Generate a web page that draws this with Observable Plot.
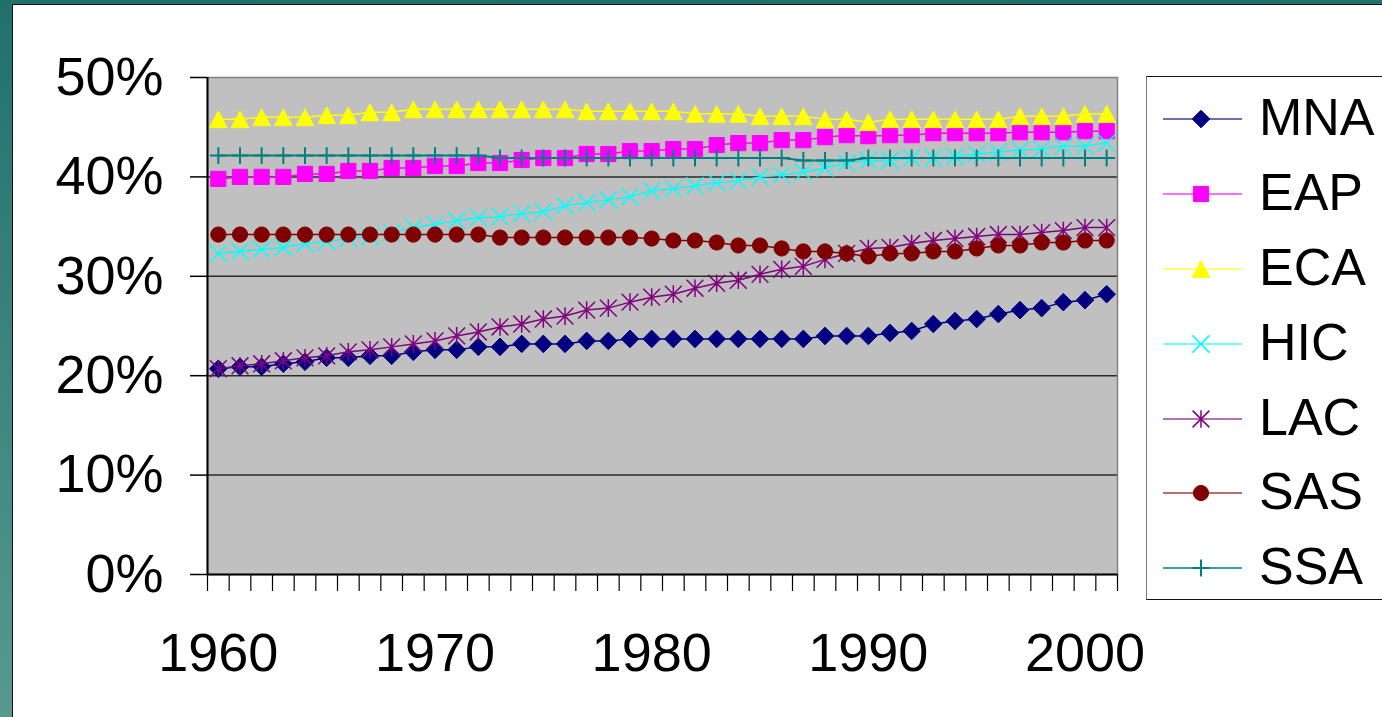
<!DOCTYPE html>
<html>
<head>
<meta charset="utf-8">
<script src="https://cdn.jsdelivr.net/npm/d3@7"></script>
<script src="https://cdn.jsdelivr.net/npm/@observablehq/plot@0.6"></script>
<style>
  html, body { margin: 0; padding: 0; width: 1382px; height: 717px; overflow: hidden; }
  body { position: relative; background: linear-gradient(#22706b, #57998f); font-family: "Liberation Sans", Arial, sans-serif; }
  #panel { position: absolute; left: 12px; top: 4px; right: 0; bottom: 0; background: #fff; border-left: 1.5px solid #111; border-top: 1.5px solid #111; }
  #chart { position: absolute; left: 0; top: 0; }
  #legend { position: absolute; left: 1146px; top: 76px; width: 250px; height: 524px; background: #fff;
            border: 1.5px solid #111; border-left-color: #777; box-sizing: border-box; padding-top: 5px; }
  .row { height: 74.8px; display: flex; align-items: center; }
  .row svg { margin-left: 16px; }
  .row span { margin-left: 16px; font-size: 52px; color: #000; position: relative; top: -2px; line-height: 1; }
</style>
</head>
<body>
<div id="panel"></div>
<div id="chart"></div>
<div id="legend"></div>
<script>
// ---- data ----
const years = [1960,1961,1962,1963,1964,1965,1966,1967,1968,1969,1970,1971,1972,1973,1974,1975,1976,1977,1978,1979,1980,
               1981,1982,1983,1984,1985,1986,1987,1988,1989,1990,1991,1992,1993,1994,1995,1996,1997,1998,1999,2000,2001];
const seriesNames = ["MNA", "EAP", "ECA", "HIC", "LAC", "SAS", "SSA"];
const MNA = [20.7,20.9,20.9,21.2,21.4,21.8,21.8,22.0,22.0,22.4,22.6,22.6,22.9,22.9,23.2,23.2,23.2,23.5,23.5,23.7,23.7,
             23.7,23.7,23.7,23.7,23.7,23.7,23.7,24.0,24.0,24.0,24.3,24.5,25.2,25.5,25.7,26.2,26.6,26.8,27.4,27.6,28.2];
const EAP = [39.8,40.0,40.0,40.0,40.3,40.3,40.6,40.6,40.9,40.9,41.1,41.1,41.4,41.4,41.7,41.9,41.9,42.3,42.3,42.6,42.6,
             42.8,42.8,43.2,43.4,43.4,43.7,43.7,44.0,44.2,44.1,44.2,44.2,44.4,44.4,44.4,44.4,44.5,44.5,44.5,44.6,44.6];
const ECA = [45.8,45.8,46.0,46.0,46.0,46.2,46.2,46.5,46.5,46.8,46.8,46.8,46.8,46.8,46.8,46.8,46.8,46.6,46.6,46.6,46.6,
             46.6,46.35,46.35,46.35,46.1,46.1,46.1,45.8,45.8,45.5,45.8,45.8,45.8,45.8,45.8,45.8,46.1,46.1,46.1,46.35,46.35];
const HIC = [32.3,32.5,32.7,32.9,33.3,33.5,33.8,34.0,34.4,34.9,35.2,35.6,35.9,36.0,36.3,36.5,37.1,37.4,37.7,38.0,38.6,
             38.8,39.1,39.4,39.6,40.0,40.2,40.5,40.9,41.4,41.65,41.65,41.9,41.9,42.05,42.3,42.5,42.7,42.8,43.1,43.1,43.4];
const LAC = [20.7,21.0,21.2,21.5,21.8,22.0,22.4,22.6,22.9,23.2,23.5,24.0,24.4,24.9,25.2,25.7,26.0,26.6,26.8,27.4,27.9,
             28.2,28.8,29.3,29.6,30.2,30.7,31.0,31.7,32.3,32.8,32.9,33.3,33.6,33.8,34.0,34.2,34.2,34.4,34.6,34.9,34.9];
const SAS = [34.2,34.2,34.2,34.2,34.2,34.2,34.2,34.2,34.2,34.2,34.2,34.2,34.2,33.9,33.9,33.9,33.9,33.9,33.9,33.9,33.8,
             33.6,33.6,33.4,33.1,33.1,32.8,32.5,32.5,32.3,32.0,32.3,32.3,32.5,32.5,32.8,33.1,33.1,33.4,33.4,33.6,33.6];
const SSA = [42.15,42.15,42.15,42.15,42.15,42.15,42.15,42.15,42.15,42.15,42.15,42.15,42.15,41.9,41.9,41.9,41.9,41.9,41.9,41.9,41.9,
             41.9,41.9,41.9,41.9,41.9,41.9,41.65,41.65,41.65,41.9,41.9,41.9,41.9,41.9,41.9,41.9,41.9,41.9,41.9,41.9,41.9];
const yTicks = [0, 0.1, 0.2, 0.3, 0.4, 0.5];
const xLabels = [1960, 1970, 1980, 1990, 2000];

// ---- marker shapes (Excel-like) ----
const R = s => Math.sqrt(s / Math.PI);
const symDiamond = {draw(c, s) { const r = R(s); c.moveTo(0, -r); c.lineTo(r, 0); c.lineTo(0, r); c.lineTo(-r, 0); c.closePath(); }};
const symSquare  = {draw(c, s) { const r = R(s); c.rect(-r, -r, 2 * r, 2 * r); }};
const symTri     = {draw(c, s) { const r = R(s); c.moveTo(0, -r * 0.95); c.lineTo(r, r * 0.95); c.lineTo(-r, r * 0.95); c.closePath(); }};
const symTimes   = {draw(c, s) { const r = R(s); c.moveTo(-r, -r); c.lineTo(r, r); c.moveTo(r, -r); c.lineTo(-r, r); }};
const symStar    = {draw(c, s) { const r = R(s); c.moveTo(-r, -r); c.lineTo(r, r); c.moveTo(r, -r); c.lineTo(-r, r); c.moveTo(0, -r * 1.05); c.lineTo(0, r * 1.05); }};
const symCircle  = {draw(c, s) { const r = R(s); c.moveTo(r, 0); c.arc(0, 0, r, 0, 2 * Math.PI); }};
const symPlus    = {draw(c, s) { const r = R(s); c.moveTo(0, -r); c.lineTo(0, r); c.moveTo(-r, 0); c.lineTo(r, 0); }};

const styles = {
  MNA: {color: "#000080", symbol: symDiamond, r: 8.8, filled: true,  lw: 1.5},
  EAP: {color: "#ff00ff", symbol: symSquare,  r: 7.6, filled: true,  lw: 1.5},
  ECA: {color: "#ffff00", symbol: symTri,     r: 8.8, filled: true,  lw: 1.5},
  HIC: {color: "#00ffff", symbol: symTimes,   r: 8.6, filled: false, lw: 1.5, mw: 1.5},
  LAC: {color: "#800080", symbol: symStar,    r: 8.4, filled: false, lw: 1.5, mw: 1.5},
  SAS: {color: "#800000", symbol: symCircle,  r: 7.6, filled: true,  lw: 1.5},
  SSA: {color: "#008080", symbol: symPlus,    r: 8.4, filled: false, lw: 2,   mw: 2}
};
const values = {MNA, EAP, ECA, HIC, LAC, SAS, SSA};

const seriesMarks = seriesNames.flatMap(name => {
  const st = styles[name];
  const data = years.map((year, i) => ({year, v: values[name][i] / 100}));
  return [
    Plot.line(data, {x: "year", y: "v", stroke: st.color, strokeWidth: st.lw}),
    Plot.dot(data, st.filled
      ? {x: "year", y: "v", symbol: st.symbol, r: st.r, fill: st.color, stroke: st.color, strokeWidth: 1}
      : {x: "year", y: "v", symbol: st.symbol, r: st.r, fill: "none", stroke: st.color, strokeWidth: st.mw})
  ];
});

const boundaries = years.map(y => y - 0.5).concat([years[years.length - 1] + 0.5]);

const chart = Plot.plot({
  width: 1382,
  height: 717,
  marginLeft: 207,
  marginRight: 265,
  marginTop: 77,
  marginBottom: 143,
  style: {background: "transparent", fontFamily: "'Liberation Sans', Arial, sans-serif", color: "#000"},
  x: {type: "linear", domain: [boundaries[0], boundaries[boundaries.length - 1]]},
  y: {domain: [0, 0.5]},
  marks: [
    Plot.frame({fill: "#c0c0c0", stroke: "none"}),
    Plot.ruleY(yTicks.filter(v => v > 0 && v < 0.5), {stroke: "#2a2a2a", strokeWidth: 1.5}),
    Plot.frame({stroke: "#808080", strokeWidth: 1.5, fill: "none"}),
    ...seriesMarks,
    Plot.ruleX([boundaries[0]], {stroke: "#000", strokeWidth: 2}),
    Plot.ruleY([0], {stroke: "#000", strokeWidth: 2}),
    Plot.axisY({ticks: yTicks, tickSize: 17, tickPadding: 27, tickFormat: d3.format(".0%"), fontSize: 54, stroke: "#000", strokeWidth: 1.5, label: null}),
    Plot.axisX({ticks: boundaries, tickSize: 17, tickFormat: () => "", stroke: "#000", strokeWidth: 1.2, label: null}),
    Plot.axisX({ticks: xLabels, tickSize: 0, tickPadding: 58, tickFormat: d => String(d), fontSize: 54, label: null})
  ]
});
document.getElementById("chart").appendChild(chart);

// ---- legend ----
const legend = d3.select("#legend");
seriesNames.forEach(name => {
  const st = styles[name];
  const row = legend.append("div").attr("class", "row");
  const svg = row.append("svg").attr("width", 80).attr("height", 30);
  svg.append("line").attr("x1", 0).attr("x2", 79).attr("y1", 15).attr("y2", 15)
     .attr("stroke", st.color).attr("stroke-width", st.lw).attr("opacity", 0.75);
  svg.append("path")
     .attr("transform", "translate(38,15)")
     .attr("d", d3.symbol(st.symbol, Math.PI * st.r * st.r)())
     .attr("fill", st.filled ? st.color : "none")
     .attr("stroke", st.color)
     .attr("stroke-width", st.filled ? 1 : st.mw);
  row.append("span").text(name);
});
</script>
</body>
</html>
